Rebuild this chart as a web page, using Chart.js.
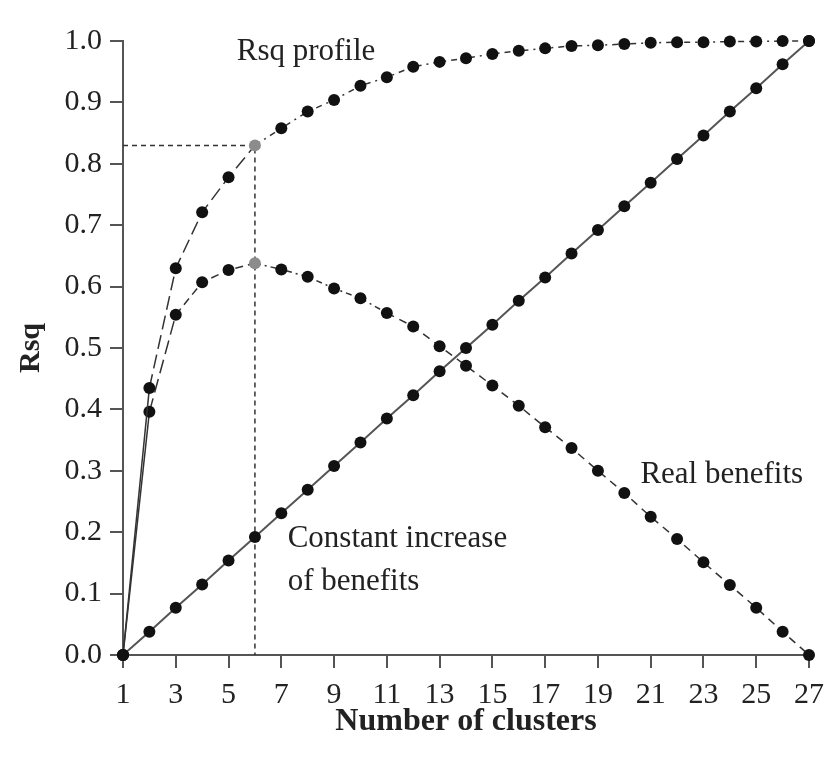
<!DOCTYPE html>
<html>
<head>
<meta charset="utf-8">
<script src="https://cdn.jsdelivr.net/npm/chart.js@4/dist/chart.umd.min.js"></script>
<style>
  body { margin: 0; background: #fff; }
  #holder { width: 833px; height: 762px; }
</style>
</head>
<body>
<div id="holder"><canvas id="rsqChart" width="833" height="762"></canvas></div>
<script>
// number of clusters on the x axis
let clusters = [1, 2, 3, 4, 5, 6, 7, 8, 9, 10, 11, 12, 13, 14, 15, 16, 17, 18, 19, 20, 21, 22, 23, 24, 25, 26, 27];

// Rsq profile
let rsqProfile = [0.000, 0.435, 0.630, 0.721, 0.778, 0.830, 0.858, 0.885, 0.904, 0.927,
                  0.941, 0.958, 0.966, 0.972, 0.979, 0.984, 0.988, 0.992, 0.993, 0.995,
                  0.997, 0.998, 0.998, 0.999, 0.999, 1.000, 1.000];

// straight line 0 -> 1
let constantIncrease = [0.000, 0.038, 0.077, 0.115, 0.154, 0.192, 0.231, 0.269, 0.308, 0.346,
                        0.385, 0.423, 0.462, 0.500, 0.538, 0.577, 0.615, 0.654, 0.692, 0.731,
                        0.769, 0.808, 0.846, 0.885, 0.923, 0.962, 1.000];

// real benefits
let realBenefits = [0.000, 0.396, 0.554, 0.607, 0.627, 0.638, 0.628, 0.616, 0.597, 0.581,
                    0.557, 0.535, 0.503, 0.471, 0.439, 0.406, 0.371, 0.337, 0.300, 0.264,
                    0.225, 0.189, 0.151, 0.114, 0.077, 0.038, 0.000];

// dashed guide to the chosen number of clusters
let chosenClusters = 6;
let guideX = [1, 6, 6];
let guideY = [0.830, 0.830, 0];

let xTicks = [1, 3, 5, 7, 9, 11, 13, 15, 17, 19, 21, 23, 25, 27];
let yTicks = [0.0, 0.1, 0.2, 0.3, 0.4, 0.5, 0.6, 0.7, 0.8, 0.9, 1.0];

const FONT = "'Liberation Serif', 'Times New Roman', serif";
const INK = "#222";
const AXIS = "#555";

function toPoints(xs, ys) {
  return xs.map((x, i) => ({ x: x, y: ys[i] }));
}

function dotColor(ctx) {
  let p = ctx.raw;
  return p && p.x === chosenClusters ? "#8c8c8c" : "#111";
}

// labels written on the plot area
const notes = {
  id: "notes",
  afterDatasetsDraw(chart) {
    let c = chart.ctx, xs = chart.scales.x, ys = chart.scales.y;
    let items = [
      { text: "Rsq profile", x: 5.31, y: 0.969 },
      { text: "Constant increase", x: 7.24, y: 0.176 },
      { text: "of benefits", x: 7.24, y: 0.106 },
      { text: "Real benefits", x: 20.61, y: 0.280 }
    ];
    c.save();
    c.font = "31px " + FONT;
    c.fillStyle = INK;
    c.textAlign = "left";
    c.textBaseline = "alphabetic";
    items.forEach(t => {
      c.fillText(t.text, xs.getPixelForValue(t.x), ys.getPixelForValue(t.y));
    });
    c.restore();
  }
};

let ctx = document.getElementById("rsqChart").getContext("2d");
let chart = new Chart(ctx, {
  type: "line",
  data: {
    datasets: [
      {
        label: "Guide",
        data: toPoints(guideX, guideY),
        borderColor: "#333",
        borderWidth: 1.5,
        borderDash: [5, 4],
        pointRadius: 0,
        fill: false,
        clip: false,
        order: 4
      },
      {
        label: "Constant increase of benefits",
        data: toPoints(clusters, constantIncrease),
        borderColor: "#555",
        borderWidth: 2,
        pointRadius: 6,
        pointBackgroundColor: "#111",
        pointBorderWidth: 0,
        fill: false,
        clip: false,
        order: 3
      },
      {
        label: "Real benefits",
        data: toPoints(clusters, realBenefits),
        borderColor: "#333",
        borderWidth: 1.5,
        pointRadius: 6,
        pointBackgroundColor: dotColor,
        pointBorderWidth: 0,
        fill: false,
        clip: false,
        order: 2,
        segment: {
          borderDash: s => {
            let i = s.p0DataIndex;
            if (i === 0) return [];
            if (i === 1) return [14, 6];
            if (i < 5) return [8, 5];
            if (i < 10) return [6, 4, 2, 4];
            return [8, 6];
          }
        }
      },
      {
        label: "Rsq profile",
        data: toPoints(clusters, rsqProfile),
        borderColor: "#333",
        borderWidth: 1.5,
        pointRadius: 6,
        pointBackgroundColor: dotColor,
        pointBorderWidth: 0,
        fill: false,
        clip: false,
        order: 1,
        segment: {
          borderDash: s => {
            let i = s.p0DataIndex;
            if (i === 0) return [];
            if (i < 5) return [14, 6];
            return [6, 5, 2, 5];
          }
        }
      }
    ]
  },
  options: {
    responsive: false,
    animation: false,
    layout: { padding: { top: 41, right: 22, left: 0, bottom: 0 } },
    plugins: { legend: { display: false }, tooltip: { enabled: false } },
    elements: { line: { tension: 0 } },
    scales: {
      x: {
        type: "linear",
        min: 1,
        max: 27,
        afterBuildTicks: s => { s.ticks = xTicks.map(v => ({ value: v })); },
        afterFit: s => { s.height = 107; },
        ticks: {
          autoSkip: false,
          maxRotation: 0,
          padding: 9,
          color: INK,
          font: { family: FONT, size: 30 },
          callback: v => String(v)
        },
        grid: { drawOnChartArea: false, drawTicks: true, tickLength: 13, color: AXIS, lineWidth: 2 },
        border: { display: true, color: AXIS, width: 2 },
        title: {
          display: true,
          text: "Number of clusters",
          color: INK,
          font: { family: FONT, size: 32, weight: "bold" },
          padding: { top: 0, bottom: 21 }
        }
      },
      y: {
        min: 0,
        max: 1,
        afterBuildTicks: s => { s.ticks = yTicks.map(v => ({ value: v })); },
        afterFit: s => { s.width = 123; },
        ticks: {
          padding: 8,
          color: INK,
          font: { family: FONT, size: 30 },
          callback: v => v.toFixed(1)
        },
        grid: { drawOnChartArea: false, drawTicks: true, tickLength: 13, color: AXIS, lineWidth: 2 },
        border: { display: true, color: AXIS, width: 2 },
        title: {
          display: true,
          text: "Rsq",
          color: INK,
          font: { family: FONT, size: 30, weight: "bold" },
          padding: { top: 13, bottom: 0 }
        }
      }
    }
  },
  plugins: [notes]
});
</script>
</body>
</html>
